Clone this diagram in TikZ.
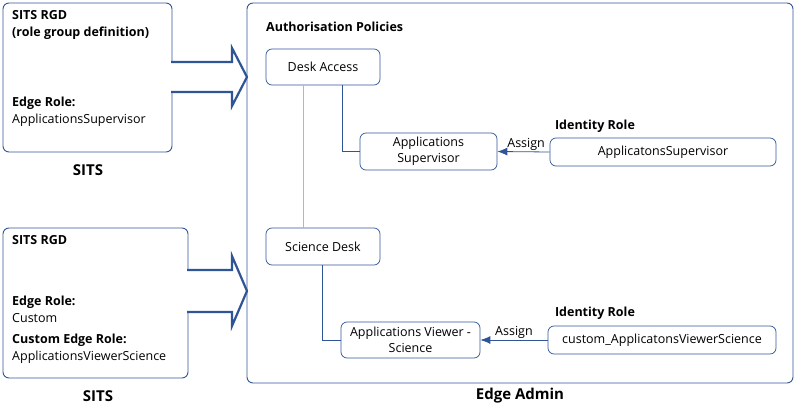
\documentclass[tikz,border=0pt]{standalone}
\usepackage{fontspec}
\setmainfont{Open Sans}
\usetikzlibrary{arrows.meta}
\definecolor{dblue}{HTML}{2F5597}
\definecolor{lblue}{HTML}{A9B8D0}
\begin{document}
\begin{tikzpicture}[x=1pt,y=-1pt,font=\fontsize{12.5}{17}\selectfont,
  box/.style={draw=dblue,line width=0.9pt,rounded corners=6pt},
  nd/.style={draw=dblue,line width=0.7pt,rounded corners=6pt,align=center,inner sep=0pt,font=\fontsize{12.5}{16}\selectfont},
  blk/.style={draw=dblue,line width=2.2pt,fill=white,line join=miter},
  ln/.style={draw=dblue,line width=0.8pt}]
\useasboundingbox (0,0) rectangle (796,415);
% left boxes
\draw[box] (3,3) rectangle (172,152);
\draw[box] (3,228) rectangle (188,378);
% big box
\draw[box] (247,3) rectangle (793,383);
% block arrows
\draw[blk] (171,62) -- (232,62) -- (232,48) -- (247,77) -- (232,106) -- (232,92) -- (171,92);
\draw[blk] (187,270) -- (232,270) -- (232,256) -- (247,291) -- (232,326) -- (232,312) -- (187,312);
% left texts
\node[anchor=north west,align=left,inner sep=0pt,font=\fontsize{12.5}{17}\selectfont\bfseries] (t1) at (12,10) {SITS RGD\\(role group definition)};
\node[anchor=north west,align=left,inner sep=0pt] (t2) at (12,97) {\textbf{Edge Role:}\\ApplicationsSupervisor};
\node[font=\fontsize{15}{17}\selectfont\bfseries] (s1) at (88,170) {SITS};
\node[anchor=north west,align=left,inner sep=0pt,font=\fontsize{12.5}{17}\selectfont\bfseries] (t3) at (12,235) {SITS RGD};
\node[anchor=north west,align=left,inner sep=0pt] (t4) at (12,296) {\textbf{Edge Role:}\\Custom};
\node[anchor=north west,align=left,inner sep=0pt] (t5) at (12,334) {\textbf{Custom Edge Role:}\\ApplicationsViewerScience};
\node[font=\fontsize{15}{17}\selectfont\bfseries] (s2) at (98,396) {SITS};
\node[font=\fontsize{15}{17}\selectfont\bfseries] (ea) at (520,396) {Edge Admin};
\node[anchor=west,inner sep=0pt,font=\fontsize{12.5}{15}\selectfont\bfseries] (ap) at (266,27) {Authorisation Policies};
% nodes
\node[nd,minimum width=114,minimum height=36] (da) at (323,67) {Desk Access};
\node[nd,minimum width=137,minimum height=37] (as) at (428.5,151.5) {Applications\\Supervisor};
\node[nd,minimum width=226,minimum height=28] (ir1) at (663,152) {ApplicatonsSupervisor};
\node[nd,minimum width=114,minimum height=37] (sd) at (323,246.5) {Science Desk};
\node[nd,minimum width=139,minimum height=36] (av) at (410.5,340) {Applications Viewer -\\Science};
\node[nd,minimum width=228,minimum height=28] (ir2) at (662,340) {custom\_ApplicatonsViewerScience};
\node[font=\fontsize{12.5}{15}\selectfont\bfseries] (l1) at (595,126) {Identity Role};
\node[font=\fontsize{12.5}{15}\selectfont\bfseries] (l2) at (595,313) {Identity Role};
% connectors
\draw[draw=lblue,line width=0.9pt] (da.south -| 303,0) -- (sd.north -| 303,0);
\draw[ln] (da.south -| 342,0) |- (as.west);
\draw[ln] (sd.south -| 322,0) |- (av.west);
\draw[ln,-{Latex[length=10pt,width=8pt]}] (ir1.west) -- node[above,pos=0.45,inner sep=1pt] (a1) {Assign} (as.east);
\draw[ln,-{Latex[length=10pt,width=8pt]}] (ir2.west) -- node[above,pos=0.5,inner sep=1pt] (a2) {Assign} (av.east);
\end{tikzpicture}
\end{document}
